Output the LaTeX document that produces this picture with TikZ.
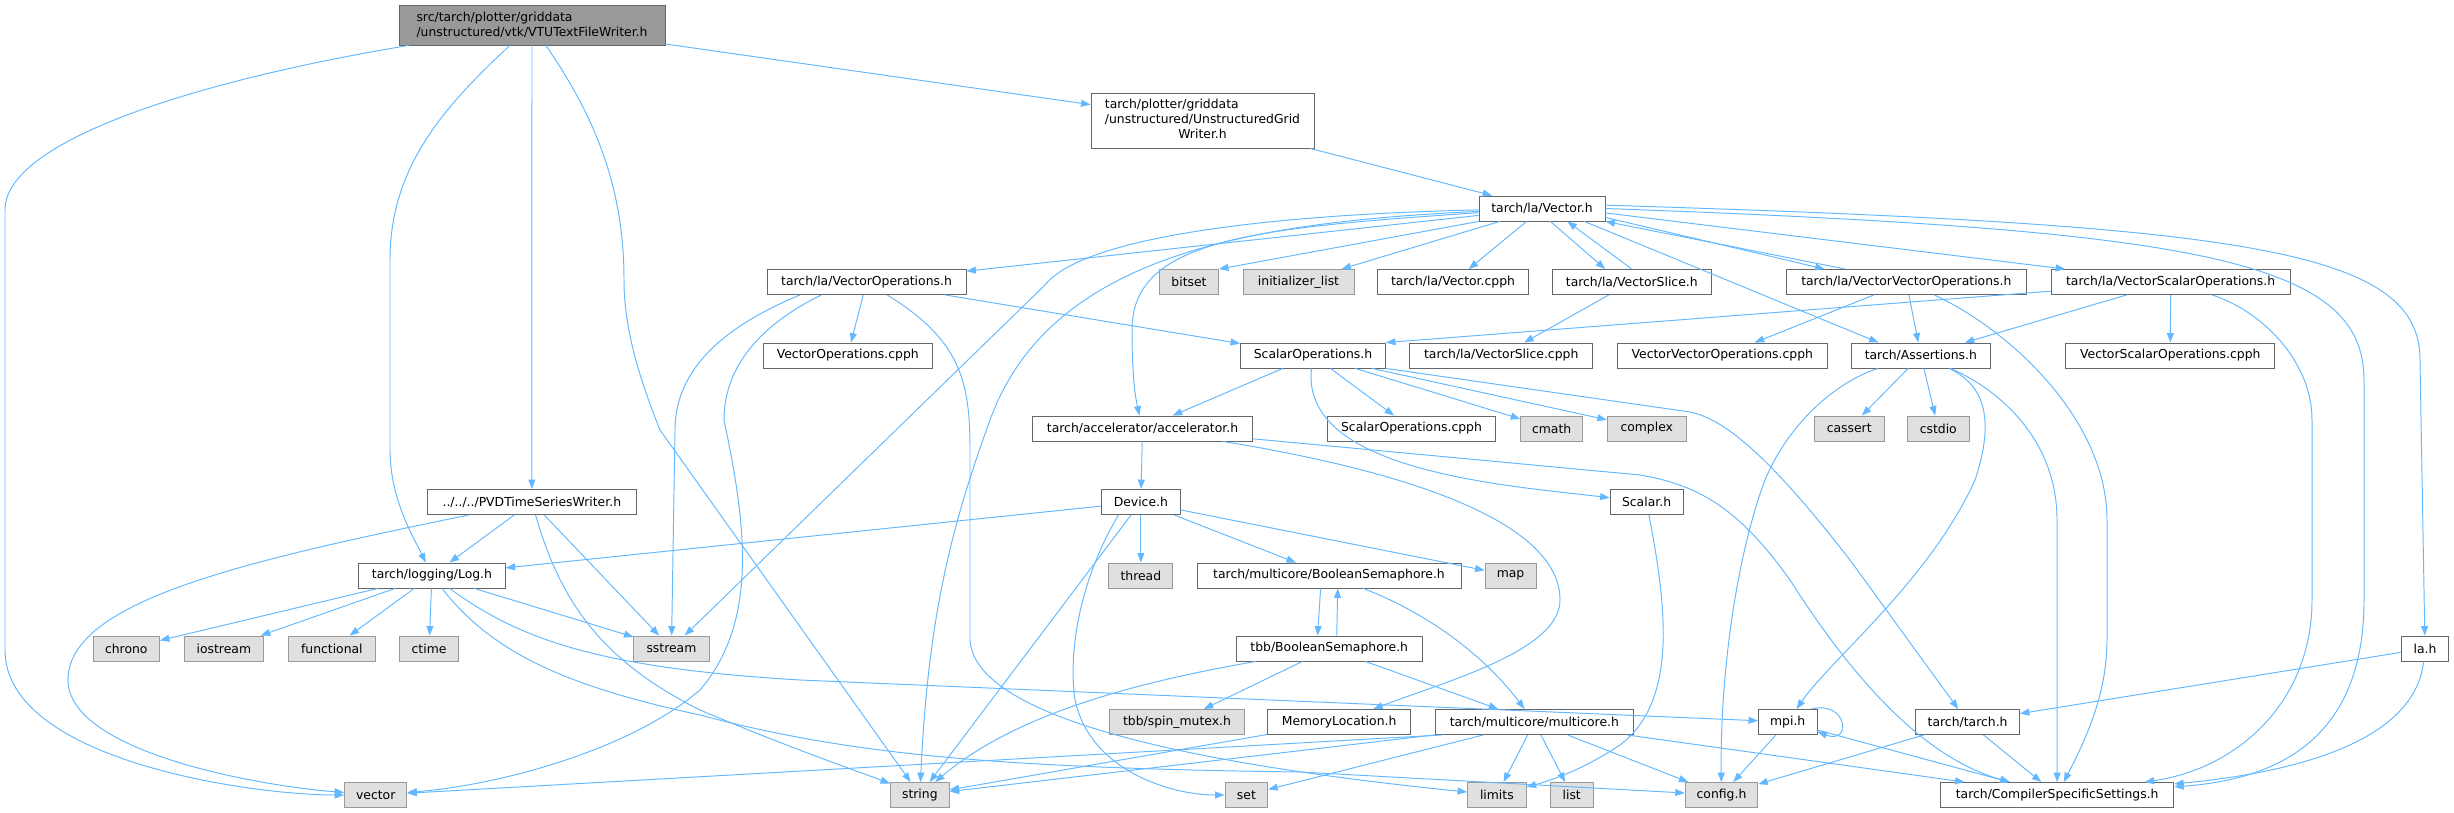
\documentclass[tikz,border=0pt]{standalone}
\usepackage{fontspec}
\newfontfamily\dotfont{DejaVu Sans}
\usepackage{xcolor}
\usepackage{tikz}
\usetikzlibrary{arrows.meta}

\definecolor{edgeblue}{HTML}{63B8FF}
\definecolor{boxline}{HTML}{666666}
\definecolor{sysline}{HTML}{999999}
\definecolor{sysfill}{HTML}{E0E0E0}
\definecolor{rootfill}{HTML}{999999}

\begin{document}
\begin{tikzpicture}[
  x=0.02cm, y=-0.02cm,
  box/.style={rectangle, draw=boxline, fill=white, line width=0.5pt, inner sep=0pt, minimum height=0.5cm, font={\dotfont\fontsize{7.05}{8.5}\selectfont}},
  sys/.style={box, draw=sysline, fill=sysfill},
  wd/.style={minimum width=#1*0.02cm},
  arrow/.style={-{Triangle[length=0.19cm, width=0.14cm]}, draw=edgeblue, line width=0.55pt},
]
  \useasboundingbox (0,0) rectangle (2454,813);

  \node[box, fill=rootfill, wd=266, minimum height=0.8cm, align=left] (root) at (532,25) {src/tarch/plotter/griddata\\/unstructured/vtk/VTUTextFileWriter.h};
  \node[box, wd=223, minimum height=1.1cm] (ugw) at (1202.5,120.5) {\begin{tabular}{@{}l@{}}tarch/plotter/griddata\\/unstructured/UnstructuredGrid\\\multicolumn{1}{@{}c@{}}{Writer.h}\end{tabular}};
  \node[box, wd=126] (vech) at (1542,208.5) {tarch/la/Vector.h};

  \node[box, wd=199] (vecops) at (866.5,282) {tarch/la/VectorOperations.h};
  \node[sys, wd=59] (bitset) at (1189,282) {bitset};
  \node[sys, wd=111] (initlist) at (1298.5,282) {initializer\_list};
  \node[box, wd=151] (veccpph) at (1453,282) {tarch/la/Vector.cpph};
  \node[box, wd=159] (vslice) at (1631.75,282) {tarch/la/VectorSlice.h};
  \node[box, wd=240] (vvo) at (1906.3,282) {tarch/la/VectorVectorOperations.h};
  \node[box, wd=239] (vso) at (2170.6,282) {tarch/la/VectorScalarOperations.h};

  \node[box, wd=168.5] (vocpph) at (847.75,355.5) {VectorOperations.cpph};
  \node[box, wd=145] (scalops) at (1313,355.5) {ScalarOperations.h};
  \node[box, wd=182.6] (vslicecpph) at (1501.2,355.5) {tarch/la/VectorSlice.cpph};
  \node[box, wd=210] (vvocpph) at (1722.3,355.5) {VectorVectorOperations.cpph};
  \node[box, wd=139] (assert) at (1920.85,355.5) {tarch/Assertions.h};
  \node[box, wd=209] (vsocpph) at (2170.3,355.5) {VectorScalarOperations.cpph};

  \node[box, wd=220] (accel) at (1142.5,428.5) {tarch/accelerator/accelerator.h};
  \node[box, wd=168] (scalcpph) at (1411.5,428.5) {ScalarOperations.cpph};
  \node[sys, wd=62] (cmath) at (1551.65,428.5) {cmath};
  \node[sys, wd=79] (complex) at (1646.75,428.5) {complex};
  \node[sys, wd=69.6] (cassert) at (1849.2,428.5) {cassert};
  \node[sys, wd=61.7] (cstdio) at (1938.25,428.5) {cstdio};

  \node[box, wd=209] (pvd) at (531.85,502) {../../../PVDTimeSeriesWriter.h};
  \node[box, wd=78.5] (device) at (1140.85,502) {Device.h};
  \node[box, wd=73] (scalarh) at (1646.55,502) {Scalar.h};

  \node[box, wd=146.5] (log) at (431.95,575.5) {tarch/logging/Log.h};
  \node[sys, wd=64] (thread) at (1140.85,575.5) {thread};
  \node[box, wd=264] (boolsem) at (1329,575.5) {tarch/multicore/BooleanSemaphore.h};
  \node[sys, wd=51] (map) at (1510.5,575.5) {map};

  \node[sys, wd=66.4] (chrono) at (126.3,648.5) {chrono};
  \node[sys, wd=79.5] (iostream) at (223.85,648.5) {iostream};
  \node[sys, wd=86.3] (functional) at (331.85,648.5) {functional};
  \node[sys, wd=59] (ctime) at (429.05,648.5) {ctime};
  \node[sys, wd=75.3] (sstream) at (671.45,648.5) {sstream};
  \node[box, wd=186.5] (tbbsem) at (1329.25,648.5) {tbb/BooleanSemaphore.h};
  \node[box, wd=46.7] (lah) at (2425,648.5) {la.h};

  \node[sys, wd=134.3] (spinmutex) at (1177,722) {tbb/spin\_mutex.h};
  \node[box, wd=142.6] (memloc) at (1339.1,722) {MemoryLocation.h};
  \node[box, wd=198.5] (multicore) at (1534.35,722) {tarch/multicore/multicore.h};
  \node[box, wd=58.6] (mpih) at (1787.7,722) {mpi.h};
  \node[box, wd=103.8] (tarchh) at (1967.6,722) {tarch/tarch.h};

  \node[sys, wd=62.3] (vector) at (375.75,795) {vector};
  \node[sys, wd=58.7] (string) at (919.85,795) {string};
  \node[sys, wd=42.8] (set) at (1246.4,795) {set};
  \node[sys, wd=58.7] (limits) at (1496.85,795) {limits};
  \node[sys, wd=42.8] (list) at (1571.7,795) {list};
  \node[sys, wd=72.6] (config) at (1721.5,795) {config.h};
  \node[box, wd=233.1] (css) at (2057.15,795) {tarch/CompilerSpecificSettings.h};

  % root file
  \draw[arrow] (root) .. controls (200,80) and (5,140) .. (5,210) -- (5,650) .. controls (5,760) and (250,795) .. (vector);
  \draw[arrow] (root) .. controls (440,110) and (390,170) .. (390,260) -- (390,450) .. controls (390,500) and (415,540) .. (log);
  \draw[arrow] (root) -- (pvd);
  \draw[arrow] (root) .. controls (590,110) and (624,180) .. (624,280) .. controls (624,330) and (640,380) .. (660,430) -- (string);
  \draw[arrow] (root) -- (ugw);
  \draw[arrow] (ugw) -- (vech);

  % Vector.h
  \draw[arrow] (vech) -- (vecops);
  \draw[arrow] (vech.south west) -- (bitset.north east);
  \draw[arrow] (vech.-163) -- (initlist);
  \draw[arrow] (vech.-140) -- (veccpph);
  \draw[arrow] (vech.-57) -- (vslice.154);
  \draw[arrow] (vslice.north) -- (vech.-27);
  \draw[arrow] (vech.-8) -- (vvo.171);
  \draw[arrow] (vvo.168) -- (vech.south east);
  \draw[arrow] (vech.-4) -- (vso.173);
  \draw[arrow] (vech.-17) -- (assert.163);
  \draw[arrow] (vech.3) .. controls (2250,225) and (2420,250) .. (2420,360) -- (lah);
  \draw[arrow] (vech.0) .. controls (2200,230) and (2364,260) .. (2364,380) -- (2364,600) .. controls (2364,720) and (2300,778) .. (css);
  \draw[arrow] (vech) .. controls (1250,215) and (1080,240) .. (1045,285) -- (sstream);
  \draw[arrow] (vech) .. controls (1250,222) and (1050,255) .. (990,420) .. controls (950,530) and (928,620) .. (string);
  \draw[arrow] (vech) .. controls (1250,228) and (1132,240) .. (1132,330) .. controls (1132,380) and (1136,400) .. (accel);

  % VectorOperations.h
  \draw[arrow] (vecops) -- (vocpph);
  \draw[arrow] (vecops) -- (scalops);
  \draw[arrow] (vecops.-169) .. controls (740,320) and (675,360) .. (675,430) -- (sstream);
  \draw[arrow] (vecops.-164) .. controls (770,320) and (724,360) .. (724,420) .. controls (745,520) and (760,620) .. (700,690) .. controls (630,750) and (500,785) .. (vector);
  \draw[arrow] (vecops.-32) .. controls (960,340) and (970,380) .. (970,450) -- (970,640) .. controls (975,720) and (1200,765) .. (limits);

  % ScalarOperations.h
  \draw[arrow] (scalops) -- (accel);
  \draw[arrow] (scalops) -- (scalcpph);
  \draw[arrow] (scalops) -- (cmath);
  \draw[arrow] (scalops) -- (complex);
  \draw[arrow] (scalops) .. controls (1300,470) and (1500,485) .. (scalarh);
  \draw[arrow] (scalops.south east) -- (1690,412) .. controls (1730,420) and (1780,470) .. (1850,560) -- (tarchh);

  % accelerator.h and Device.h
  \draw[arrow] (accel) -- (device);
  \draw[arrow] (accel) -- (1640,475) .. controls (1700,485) and (1740,510) .. (1790,580) .. controls (1860,690) and (1930,760) .. (css);
  \draw[arrow] (accel) .. controls (1400,470) and (1560,520) .. (1560,600) .. controls (1560,650) and (1450,680) .. (memloc);
  \draw[arrow] (device) -- (log);
  \draw[arrow] (device) -- (thread);
  \draw[arrow] (device) -- (boolsem);
  \draw[arrow] (device) -- (map);
  \draw[arrow] (device) -- (string);
  \draw[arrow] (device.-150) .. controls (1080,580) and (1068,650) .. (1075,700) .. controls (1090,770) and (1170,795) .. (set);

  % Log.h and PVDTimeSeriesWriter.h
  \draw[arrow] (log) -- (chrono);
  \draw[arrow] (log) -- (iostream);
  \draw[arrow] (log) -- (functional);
  \draw[arrow] (log) -- (ctime);
  \draw[arrow] (log) -- (sstream);
  \draw[arrow] (log) .. controls (520,640) and (600,668) .. (800,680) -- (mpih);
  \draw[arrow] (log) .. controls (490,650) and (560,685) .. (700,715) .. controls (850,755) and (1000,768) .. (1300,772) -- (config);
  \draw[arrow] (pvd) .. controls (250,560) and (68,600) .. (68,680) .. controls (68,750) and (250,785) .. (vector);
  \draw[arrow] (pvd) -- (log);
  \draw[arrow] (pvd) -- (sstream);
  \draw[arrow] (pvd) .. controls (560,600) and (600,660) .. (700,710) .. controls (800,752) and (860,772) .. (string);

  % la headers
  \draw[arrow] (vslice) -- (vslicecpph);
  \draw[arrow] (vvo) -- (vvocpph);
  \draw[arrow] (vvo) -- (assert);
  \draw[arrow] (vvo) .. controls (2010,330) and (2107,420) .. (2107,520) -- (2107,640) .. controls (2107,700) and (2080,750) .. (css);
  \draw[arrow] (vso) -- (scalops.north east);
  \draw[arrow] (vso) -- (assert);
  \draw[arrow] (vso) -- (vsocpph);
  \draw[arrow] (vso) .. controls (2260,310) and (2312,360) .. (2312,420) -- (2312,600) .. controls (2312,700) and (2240,768) .. (css);

  % Assertions.h
  \draw[arrow] (assert) .. controls (1840,380) and (1790,420) .. (1765,480) .. controls (1735,560) and (1720,680) .. (config);
  \draw[arrow] (assert) -- (cassert);
  \draw[arrow] (assert) -- (cstdio);
  \draw[arrow] (assert) .. controls (1985,385) and (1995,420) .. (1975,480) .. controls (1930,580) and (1830,660) .. (mpih);
  \draw[arrow] (assert) .. controls (2000,390) and (2057,440) .. (2057,520) -- (css);

  % mpi.h, tarch.h, la.h
  \draw[arrow] (mpih.29) .. controls (1848,700) and (1852,745) .. (mpih.-18);
  \draw[arrow] (mpih) -- (config);
  \draw[arrow] (mpih) -- (css);
  \draw[arrow] (tarchh) -- (config);
  \draw[arrow] (tarchh) -- (css);
  \draw[arrow] (lah) -- (tarchh);
  \draw[arrow] (lah) .. controls (2415,740) and (2300,772) .. (css);

  % multicore
  \draw[arrow] (boolsem.-123) -- (tbbsem.132);
  \draw[arrow] (tbbsem.60) -- (boolsem.-56);
  \draw[arrow] (boolsem) .. controls (1420,610) and (1480,650) .. (multicore);
  \draw[arrow] (tbbsem) .. controls (1150,680) and (1020,710) .. (string);
  \draw[arrow] (tbbsem) -- (spinmutex);
  \draw[arrow] (tbbsem) -- (multicore);
  \draw[arrow] (memloc) -- (string);
  \draw[arrow] (multicore.south west) -- (string);
  \draw[arrow] (multicore.-172) -- (vector);
  \draw[arrow] (multicore) -- (set);
  \draw[arrow] (multicore) -- (limits);
  \draw[arrow] (multicore) -- (list);
  \draw[arrow] (multicore) -- (config);
  \draw[arrow] (multicore) -- (css);
  \draw[arrow] (scalarh) .. controls (1665,600) and (1680,700) .. (1620,745) .. controls (1590,765) and (1560,778) .. (limits);
\end{tikzpicture}
\end{document}
